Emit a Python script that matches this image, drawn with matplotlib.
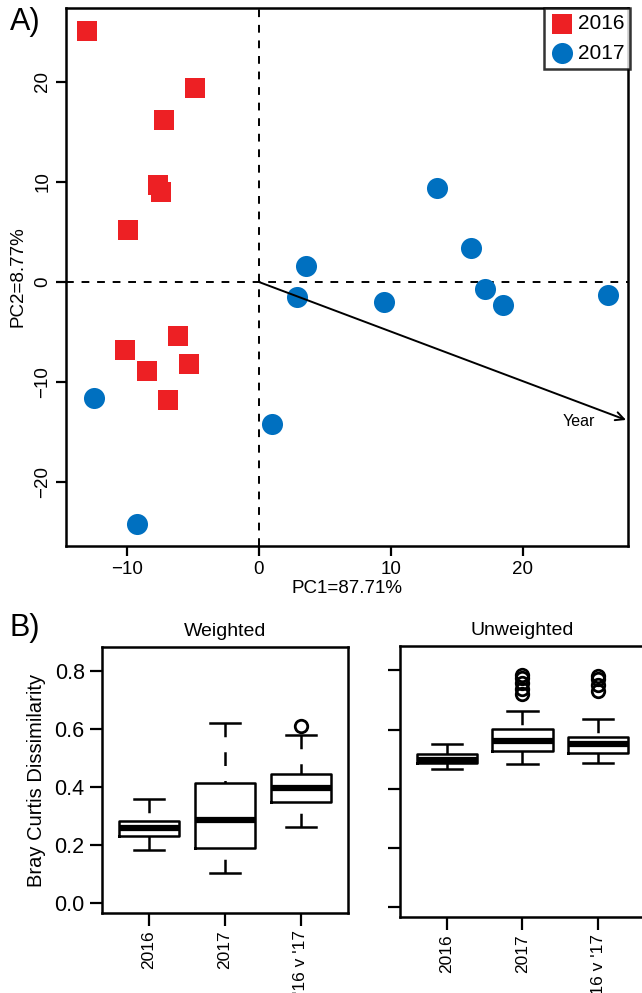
import numpy as np
import matplotlib.pyplot as plt

plt.rcParams['font.family'] = ['Liberation Sans', 'DejaVu Sans']

# PCA scores
pc1_2016 = [-13.0, -4.8, -7.2, -7.6, -7.4, -9.9, -10.1, -6.1, -8.5, -5.3, -6.9]
pc2_2016 = [25.1, 19.4, 16.2, 9.7, 9.0, 5.2, -6.8, -5.4, -8.9, -8.2, -11.8]
pc1_2017 = [-12.5, -9.2, 1.0, 2.9, 3.6, 9.5, 13.5, 16.1, 17.1, 18.5, 26.4]
pc2_2017 = [-11.6, -24.2, -14.2, -1.5, 1.6, -2.0, 9.4, 3.4, -0.7, -2.3, -1.3]
year_vec = [27.8, -13.8]

# box plot summaries: low whisker, Q1, median, Q3, high whisker, outliers
groups = ['2016', '2017', "'16 v '17"]
w_low = [0.183, 0.103, 0.262]
w_q1 = [0.231, 0.190, 0.348]
w_med = [0.259, 0.286, 0.397]
w_q3 = [0.283, 0.414, 0.445]
w_high = [0.359, 0.621, 0.579]
w_out = [[], [], [0.610]]
u_low = [0.468, 0.485, 0.488]
u_q1 = [0.488, 0.529, 0.522]
u_med = [0.498, 0.563, 0.553]
u_q3 = [0.519, 0.603, 0.576]
u_high = [0.553, 0.664, 0.637]
u_out = [[], [0.719, 0.739, 0.759, 0.776, 0.786], [0.729, 0.752, 0.770, 0.780]]

red = '#ED2024'
blue = '#0070C0'

fig = plt.figure(figsize=(6.42, 9.93), dpi=100)

# ---- panel A
ax = fig.add_axes([0.1028, 0.4502, 0.8754, 0.5418])
ax.axvline(0, color='k', ls=(0, (4, 4)), lw=1.4, zorder=1)
ax.axhline(0, color='k', ls=(0, (4, 4)), lw=1.4, zorder=1)
ax.scatter(pc1_2016, pc2_2016, marker='s', s=200, c=red, linewidths=0, zorder=3, label='2016')
ax.scatter(pc1_2017, pc2_2017, marker='o', s=230, c=blue, linewidths=0, zorder=3, label='2017')
ax.annotate('', xy=(year_vec[0], year_vec[1]), xytext=(0, 0),
            arrowprops=dict(arrowstyle='->', lw=1.4, color='k', mutation_scale=15,
                            shrinkA=0, shrinkB=0))
ax.text(year_vec[0] - 3.6, year_vec[1] - 0.2, 'Year', fontsize=11.5, ha='center', va='center')
ax.set_xlim(-14.6, 27.95)
ax.set_ylim(-26.4, 27.4)
ax.set_xticks([-10, 0, 10, 20])
ax.set_xticklabels(['\u221210', '0', '10', '20'])
ax.set_yticks([-20, -10, 0, 10, 20])
ax.set_yticklabels(['\u221220', '\u221210', '0', '10', '20'], rotation=90, va='center')
ax.tick_params(labelsize=13.5, width=1.6, length=7, direction='out')
ax.set_xlabel('PC1=87.71%', fontsize=13.5, labelpad=2)
ax.set_ylabel('PC2=8.77%', fontsize=13.5, labelpad=6)
for sp in ax.spines.values():
    sp.set_linewidth(1.8)
leg = ax.legend(loc='upper right', fontsize=15, frameon=True, fancybox=False,
                edgecolor='k', borderpad=0.3, handletextpad=0.2, labelspacing=0.5,
                handlelength=1.1, borderaxespad=0, markerscale=1.0,
                bbox_to_anchor=(1.004, 1.0))
leg.get_frame().set_linewidth(1.8)
fig.text(0.015, 0.978, 'A)', fontsize=22, va='center')

# ---- panel B


def make_stats(low, q1, med, q3, high, out):
    stats = []
    for i in range(len(low)):
        stats.append(dict(whislo=low[i], q1=q1[i], med=med[i], q3=q3[i],
                          whishi=high[i], fliers=out[i]))
    return stats


box_kw = dict(positions=[1, 2, 3], widths=0.8, capwidths=0.4, showfliers=True,
              boxprops=dict(lw=1.8, color='k'),
              medianprops=dict(lw=4.5, color='k', solid_capstyle='butt'),
              whiskerprops=dict(lw=1.8, color='k', ls=(0, (5.5, 6))),
              capprops=dict(lw=1.8, color='k'),
              flierprops=dict(marker='o', markersize=9, markerfacecolor='none',
                              markeredgecolor='k', markeredgewidth=2))

axb1 = fig.add_axes([0.1589, 0.0806, 0.3832, 0.2679])
r1 = axb1.bxp(make_stats(w_low, w_q1, w_med, w_q3, w_high, w_out), **box_kw)
axb2 = fig.add_axes([0.623, 0.0765, 0.3816, 0.2730])
r2 = axb2.bxp(make_stats(u_low, u_q1, u_med, u_q3, u_high, u_out), **box_kw)

# dashes start at the cap end, as in R
for res in (r1, r2):
    for wl in res['whiskers']:
        wl.set_ydata(wl.get_ydata()[::-1])

for a, title in [(axb1, 'Weighted'), (axb2, 'Unweighted')]:
    a.set_xlim(0.38, 3.62)
    a.set_ylim(-0.034, 0.883)
    a.set_yticks([0.0, 0.2, 0.4, 0.6, 0.8])
    a.set_xticks([1, 2, 3])
    a.set_xticklabels(groups, rotation=90, fontsize=12.5, va='top')
    a.tick_params(axis='y', labelsize=15.5, width=1.6, length=9)
    a.tick_params(axis='x', width=1.6, length=9)
    a.set_title(title, fontsize=14, pad=8)
    for sp in a.spines.values():
        sp.set_linewidth(1.8)
axb1.set_yticklabels(['0.0', '0.2', '0.4', '0.6', '0.8'])
axb1.set_ylabel('Bray Curtis Dissimilarity', fontsize=14.5, labelpad=6)
axb2.set_yticklabels([])
fig.text(0.015, 0.368, 'B)', fontsize=22, va='center')

fig.savefig('out.png', dpi=100)
